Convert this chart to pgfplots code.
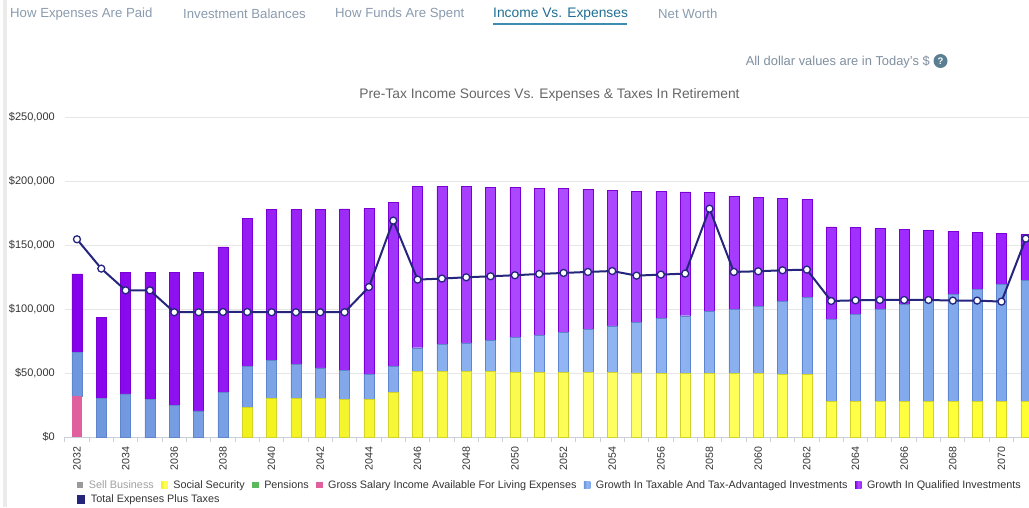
\documentclass[border=0pt]{standalone}
\usepackage{fontspec}
\setmainfont{Liberation Sans}
\usepackage{graphicx}
\usepackage{pgfplots}
\pgfplotsset{compat=1.18}
\usepackage{pgfplotstable}

\definecolor{tabc}{HTML}{8A9BAE}
\definecolor{tabact}{HTML}{1F6E94}
\definecolor{tabline}{HTML}{3D8DB0}
\definecolor{subc}{HTML}{7F8F9F}
\definecolor{iconc}{HTML}{5B7F92}
\definecolor{titlec}{HTML}{666666}
\definecolor{labc}{HTML}{333333}
\definecolor{gridc}{HTML}{E6E6E6}
\definecolor{axisc}{HTML}{C8CFD8}
\definecolor{leftc}{HTML}{EBEBEB}
\definecolor{ssL}{HTML}{F2F21A}
\definecolor{ssM}{HTML}{FFFF66}
\definecolor{ssR}{HTML}{FFFF2E}
\definecolor{ssB}{HTML}{D2D22A}
\definecolor{blL}{HTML}{6E96DE}
\definecolor{blM}{HTML}{92B6F3}
\definecolor{blR}{HTML}{7EA6EA}
\definecolor{blB}{HTML}{5F86CC}
\definecolor{puL}{HTML}{8600EC}
\definecolor{puM}{HTML}{AE4DFF}
\definecolor{puR}{HTML}{9A1FFF}
\definecolor{puB}{HTML}{7A00D6}
\definecolor{pink}{HTML}{E0609E}
\definecolor{greenc}{HTML}{5CB85C}
\definecolor{grayc}{HTML}{9A9A9A}
\definecolor{sellt}{HTML}{A0A0A0}
\definecolor{navy}{HTML}{25257E}

\pgfplotstableread{
year ss gross tax qual exp
2032 0 32300 33800 61500 154700
2033 0 0 30200 63500 131800
2034 0 0 33900 95000 114800
2035 0 0 29400 99500 114800
2036 0 0 25000 103900 97700
2037 0 0 20600 108300 97700
2038 0 0 34900 113800 97900
2039 23200 0 32000 115600 97900
2040 30500 0 29400 118000 97700
2041 30500 0 26300 121100 97700
2042 30500 0 23700 123700 97700
2043 29700 0 22400 126300 97700
2044 29700 0 19300 129600 117400
2045 35200 0 20000 128100 169300
2046 51300 0 18700 126100 123200
2047 51300 0 21100 123700 124000
2048 51300 0 22400 122400 125000
2049 51300 0 24500 119500 125800
2050 50800 0 27100 117400 126600
2051 50800 0 29100 114600 127600
2052 50800 0 31000 112700 128400
2053 50800 0 33300 109600 129200
2054 50800 0 36200 106200 129900
2055 50300 0 39300 102800 126300
2056 50000 0 42700 99700 127100
2057 50000 0 45000 96700 127900
2058 49700 0 48500 92900 178600
2059 49700 0 50000 88600 129200
2060 49700 0 52400 85400 129700
2061 49000 0 57000 80700 130500
2062 49000 0 60100 76800 131000
2063 27900 0 64000 72400 106500
2064 27900 0 67900 68000 107000
2065 27900 0 71800 63300 107300
2066 27900 0 75700 58900 107300
2067 27900 0 79400 54400 107300
2068 27900 0 83600 49400 106800
2069 27900 0 87500 44700 106800
2070 27900 0 91400 40100 106000
2071 27900 0 94500 36200 155200
}\data

\pgfplotsset{
  base/.style={
    at={(64.8pt,69.7pt)}, anchor=south west, scale only axis,
    width=975.6pt, height=320pt,
    xmin=2031.5, xmax=2071.6, ymin=0, ymax=250000,
  },
  sq/.style={legend image code/.code={\fill[##1, draw=none] (0pt,-3.2pt) rectangle (6.5pt,3.3pt);}},
  leg/.style={
    legend style={draw=none, fill=none, inner sep=0pt, outer sep=0pt,
      font=\fontsize{10.8}{12}\selectfont, text=labc,
      nodes={inner sep=0pt, anchor=west},
      column sep=0pt,
      /tikz/every odd column/.append style={column sep=5.5pt},
      /tikz/every even column/.append style={column sep=7.5pt},
      at={(axis description cs:#1)}, anchor=west},
  },
}

\begin{document}
\begin{tikzpicture}
\useasboundingbox (0,0) rectangle (1029pt,507pt);
\fill[leftc] (3pt,0) rectangle (6.5pt,507pt);

% tabs
\node[anchor=west, inner sep=0pt, text=tabc, font=\fontsize{13.2}{15}\selectfont] at (10pt,493pt) {How Expenses Are Paid};
\node[anchor=west, inner sep=0pt, text=tabc, font=\fontsize{13.2}{15}\selectfont] at (183pt,493pt) {Investment Balances};
\node[anchor=west, inner sep=0pt, text=tabc, font=\fontsize{13.2}{15}\selectfont] at (335pt,493pt) {How Funds Are Spent};
\node[anchor=west, inner sep=0pt, text=tabact, font=\fontsize{13.8}{15}\selectfont] at (493pt,493pt) {Income Vs. Expenses};
\draw[tabline, line width=2.4pt] (493pt,483pt) -- (627pt,483pt);
\node[anchor=west, inner sep=0pt, text=tabc, font=\fontsize{13.2}{15}\selectfont] at (658pt,493pt) {Net Worth};

% subtitle
\node[anchor=east, inner sep=0pt, text=subc, font=\fontsize{12.9}{15}\selectfont] at (930pt,445pt) {All dollar values are in Today's \$};
\fill[iconc] (940.5pt,446pt) circle (7pt);
\node[text=white, inner sep=0pt, font=\fontsize{9.5}{10}\selectfont\bfseries] at (940.5pt,446pt) {?};

% title
\node[inner sep=0pt, text=titlec, font=\fontsize{13.8}{16}\selectfont] at (549.5pt,412pt) {Pre-Tax Income Sources Vs. Expenses \& Taxes In Retirement};

\begin{axis}[base,
  ybar stacked, bar width=10pt,
  ytick={0,50000,100000,150000,200000,250000},
  yticklabels={{\$0},{\$50,000},{\$100,000},{\$150,000},{\$200,000},{\$250,000}},
  scaled y ticks=false,
  ymajorgrids, grid style={draw=gridc, line width=1pt},
  xtick={2032,2034,...,2070},
  xticklabels={2032,2034,2036,2038,2040,2042,2044,2046,2048,2050,2052,2054,2056,2058,2060,2062,2064,2066,2068,2070},
  minor xtick={2031.5,2032.5,...,2071.5},
  major tick length=0pt, minor tick length=5pt, tick align=outside,
  minor x tick style={draw=axisc, line width=1pt},
  ytick style={draw=none},
  axis x line*=bottom, axis y line*=left,
  y axis line style={draw=none},
  x axis line style={draw=axisc, line width=1pt, -},
  xticklabel style={rotate=90, anchor=east, inner sep=0pt, font=\fontsize{10.6}{12}\selectfont, text=labc},
  xticklabel shift=9.4pt,
  yticklabel style={anchor=east, inner sep=0pt, font=\fontsize{11}{13}\selectfont, text=labc},
  yticklabel shift=9.8pt,
  leg={0.0125,-0.149},
  legend columns=6,
]
\addlegendimage{sq, fill=grayc}
\addlegendentry[text=sellt]{Sell Business}
\addplot[sq, draw=ssB, line width=0.4pt, left color=ssL, right color=ssR, middle color=ssM] table[x=year,y=ss]{\data};
\addlegendentry{Social Security}
\addlegendimage{sq, fill=greenc}
\addlegendentry{Pensions}
\addplot[sq, draw=none, fill=pink] table[x=year,y=gross]{\data};
\addlegendentry{Gross Salary Income Available For Living Expenses}
\addplot[sq, draw=blB, line width=0.4pt, left color=blL, right color=blR, middle color=blM] table[x=year,y=tax]{\data};
\addlegendentry{Growth In Taxable And Tax-Advantaged Investments}
\addplot[sq, draw=puB, line width=0.4pt, left color=puL, right color=puR, middle color=puM] table[x=year,y=qual]{\data};
\addlegendentry{Growth In Qualified Investments}
\end{axis}

\begin{axis}[base, hide axis, leg={0.0125,-0.194}]
\addplot[navy, line width=2pt, mark=*, mark size=3.5pt,
  mark options={fill=white, draw=navy, line width=1.3pt},
  legend image code/.code={\fill[navy] (0pt,-3.2pt) rectangle (6.5pt,3.3pt);}]
  table[x=year,y=exp]{\data};
\addlegendentry{Total Expenses Plus Taxes}
\end{axis}
\end{tikzpicture}
\end{document}
